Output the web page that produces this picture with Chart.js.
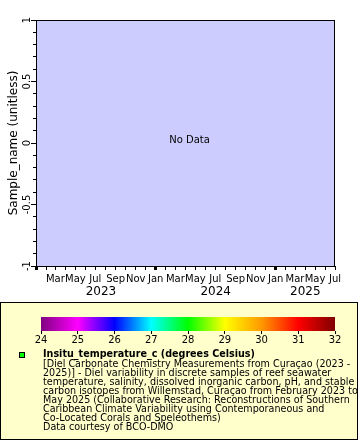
<!DOCTYPE html>
<html><head><meta charset="utf-8">
<script src="https://cdn.jsdelivr.net/npm/chart.js@4"></script>
<style>
html,body{margin:0;padding:0;background:#fff;}
body{width:360px;height:440px;position:relative;overflow:hidden;font-family:'DejaVu Sans',sans-serif;}
#main{position:absolute;left:0;top:0;}
#legendBox{position:absolute;left:0;top:302px;width:358px;height:138px;box-sizing:border-box;border:1px solid #000;background:#ffffcc;}
#cbar{position:absolute;left:0;top:302px;}
#marker{position:absolute;left:19px;top:352px;width:6px;height:6px;box-sizing:border-box;border:1px solid #000;background:#00ff00;}
#legendText{position:absolute;left:43px;top:349px;font-size:9.6px;line-height:9.1px;color:#000;white-space:nowrap;}
#legendText b{display:block;margin-bottom:0.5px;}
</style></head>
<body>
<canvas id="main" width="360" height="300"></canvas>
<div id="legendBox"></div>
<canvas id="cbar" width="360" height="48"></canvas>
<div id="marker"></div>
<div id="legendText"><b>Insitu_temperature_c (degrees Celsius)</b>[Diel Carbonate Chemistry Measurements from Curaçao (2023 -<br>2025)] - Diel variability in discrete samples of reef seawater<br>temperature, salinity, dissolved inorganic carbon, pH, and stable<br>carbon isotopes from Willemstad, Curaçao from February 2023 to<br>May 2025 (Collaborative Research: Reconstructions of Southern<br>Caribbean Climate Variability using Contemporaneous and<br>Co-Located Corals and Speleothems)<br>Data courtesy of BCO-DMO</div>
<script>
// ---- data (the dataset is empty: "No Data") ----
const sampleTimes = [];
const sampleNames = [];
const temperatures = [];
const axisStart = [2023, 0];   // Jan 2023
const axisEnd = [2025, 6];     // Jul 2025
const monthNames = ['Jan','Feb','Mar','Apr','May','Jun','Jul','Aug','Sep','Oct','Nov','Dec'];
const yearLabels = ['2023','2024','2025'];
const yTickLabels = ['-1','-0.5','0','0.5','1'];
const yRange = [-1, 1];
const colorbarTicks = [24,25,26,27,28,29,30,31,32];
const colorbarColors = ['#800080','#ff00ff','#0000ff','#00ffff','#00ff00','#ffff00','#ff9900','#ff0000','#800000'];

Chart.defaults.font.family = "'DejaVu Sans', sans-serif";
Chart.defaults.color = '#000';

const DAY = 86400000;
const base = Date.UTC(axisStart[0], axisStart[1], 1);
const dayOf = (y, m) => (Date.UTC(y, m, 1) - base) / DAY;
const xMin = 0, xMax = dayOf(axisEnd[0], axisEnd[1]);
const monthTicks = [];
for (let y = axisStart[0]; y <= axisEnd[0]; y++) {
  for (let m = 0; m < 12; m++) {
    const v = dayOf(y, m);
    if (v >= xMin && v <= xMax) monthTicks.push({value: v, m: m, y: y});
  }
}
const tickInfo = new Map(monthTicks.map(t => [t.value, t]));

const framePlugin = {
  id: 'frame',
  beforeDraw(chart) {
    const {ctx, chartArea: a} = chart;
    ctx.save();
    ctx.fillStyle = '#ccccff';
    ctx.fillRect(a.left, a.top, a.right - a.left, a.bottom - a.top);
    ctx.restore();
  },
  afterDraw(chart) {
    const {ctx, chartArea: a} = chart;
    const xs = chart.scales.x;
    ctx.save();
    ctx.strokeStyle = '#000';
    ctx.lineWidth = 1;
    ctx.strokeRect(a.left + 0.5, a.top + 0.5, a.right - a.left - 1, a.bottom - a.top);
    if (sampleTimes.length === 0) {
      ctx.fillStyle = '#000';
      ctx.font = "10px 'DejaVu Sans'";
      ctx.textAlign = 'center';
      ctx.textBaseline = 'middle';
      ctx.fillText('No Data', (a.left + a.right) / 2 + 4, (a.top + a.bottom) / 2 - 3);
    }
    ctx.font = "12px 'DejaVu Sans'";
    ctx.textAlign = 'center';
    ctx.textBaseline = 'middle';
    ctx.fillStyle = '#000';
    yearLabels.forEach(lbl => {
      const yr = +lbl;
      let s = dayOf(yr, 0);
      if (s <= xMin) { const f = monthTicks.find(t => t.value > xMin); s = f.value; }
      const e = Math.min(dayOf(yr + 1, 0), xMax);
      const px = (xs.getPixelForValue(s) + xs.getPixelForValue(e)) / 2;
      ctx.fillText(lbl, px, 292);
    });
    ctx.restore();
  }
};

new Chart(document.getElementById('main'), {
  type: 'scatter',
  data: {datasets: [{label: 'Insitu_temperature_c', data: sampleTimes.map((t, i) => ({x: t, y: sampleNames[i]})), backgroundColor: '#00ff00'}]},
  options: {
    responsive: false, animation: false,
    layout: {padding: {top: 20, right: 25, left: 0, bottom: 0}},
    plugins: {legend: {display: false}, tooltip: {enabled: false}},
    scales: {
      x: {
        type: 'linear', min: xMin, max: xMax,
        afterBuildTicks: s => { s.ticks = monthTicks.map(t => ({value: t.value})); },
        afterFit: s => { s.height = 34; },
        ticks: {
          autoSkip: false, maxRotation: 0, minRotation: 0, padding: 3,
          font: {size: 10},
          callback: v => { const t = tickInfo.get(v); if (!t || v === xMin) return ''; return t.m % 2 === 0 ? monthNames[t.m] : ''; }
        },
        grid: {
          drawOnChartArea: false, drawTicks: true, tickLength: 4, color: '#000',
          tickWidth: c => (c.tick && tickInfo.get(c.tick.value) && tickInfo.get(c.tick.value).m === 0) ? 3 : 1
        },
        border: {display: false}
      },
      y: {
        type: 'linear', min: yRange[0], max: yRange[1],
        afterBuildTicks: s => { const t = []; for (let i = -10; i <= 10; i++) t.push({value: i / 10}); s.ticks = t; },
        afterFit: s => { s.width = 36; },
        ticks: {
          autoSkip: false, minRotation: 90, maxRotation: 90, crossAlign: 'center', padding: -6,
          font: {size: 10},
          callback: v => { const i = Math.round(v * 10); return i % 5 === 0 ? yTickLabels[(i + 10) / 5] : ''; }
        },
        grid: {
          drawOnChartArea: false, drawTicks: true, tickLength: 5, color: '#000',
          tickBorderDash: c => (c.tick && Math.round(c.tick.value * 10) % 5 !== 0) ? [0, 2, 10] : []
        },
        border: {display: false},
        title: {display: true, text: 'Sample_name (unitless)', font: {size: 12}, padding: {top: 6.8, bottom: 0}}
      }
    }
  },
  plugins: [framePlugin]
});

// ---- colour bar ----
new Chart(document.getElementById('cbar'), {
  type: 'bar',
  data: {labels: ['temperature'], datasets: [{
    data: [[colorbarTicks[0], colorbarTicks[colorbarTicks.length - 1]]],
    borderWidth: 0, barPercentage: 1, categoryPercentage: 1, borderSkipped: false,
    backgroundColor: c => {
      const ch = c.chart; const xs = ch.scales.x;
      if (!ch.chartArea || !xs) return colorbarColors[0];
      const x0 = xs.getPixelForValue(colorbarTicks[0]);
      const x1 = xs.getPixelForValue(colorbarTicks[colorbarTicks.length - 1]);
      const g = ch.ctx.createLinearGradient(x0, 0, x1, 0);
      colorbarTicks.forEach((v, i) => g.addColorStop((xs.getPixelForValue(v) - x0) / (x1 - x0), colorbarColors[i]));
      return g;
    }
  }]},
  options: {
    indexAxis: 'y', responsive: false, animation: false,
    layout: {padding: {left: 41, right: 25, top: 15, bottom: 0}},
    plugins: {legend: {display: false}, tooltip: {enabled: false}},
    scales: {
      x: {
        type: 'linear', min: colorbarTicks[0], max: colorbarTicks[colorbarTicks.length - 1],
        afterBuildTicks: s => { s.ticks = colorbarTicks.map(v => ({value: v})); },
        afterFit: s => { s.height = 19; },
        ticks: {autoSkip: false, maxRotation: 0, padding: 0.5, font: {size: 10}, callback: v => String(v)},
        grid: {drawOnChartArea: false, tickLength: 3, color: '#000'},
        border: {display: false}
      },
      y: {display: false}
    }
  }
});
</script>
</body></html>
